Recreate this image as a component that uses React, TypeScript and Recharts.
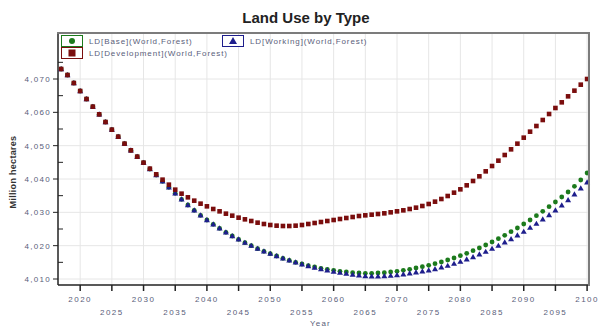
import React from 'react';
import { LineChart, Line, XAxis, YAxis, CartesianGrid } from 'recharts';

const years = [
  2017, 2018, 2019, 2020, 2021, 2022, 2023, 2024, 2025, 2026,
  2027, 2028, 2029, 2030, 2031, 2032, 2033, 2034, 2035, 2036,
  2037, 2038, 2039, 2040, 2041, 2042, 2043, 2044, 2045, 2046,
  2047, 2048, 2049, 2050, 2051, 2052, 2053, 2054, 2055, 2056,
  2057, 2058, 2059, 2060, 2061, 2062, 2063, 2064, 2065, 2066,
  2067, 2068, 2069, 2070, 2071, 2072, 2073, 2074, 2075, 2076,
  2077, 2078, 2079, 2080, 2081, 2082, 2083, 2084, 2085, 2086,
  2087, 2088, 2089, 2090, 2091, 2092, 2093, 2094, 2095, 2096,
  2097, 2098, 2099, 2100,
];

const developmentValues = [
  4073.0, 4071.2, 4068.8, 4066.4, 4064.0, 4061.7, 4059.4, 4057.1, 4054.8, 4052.7,
  4050.6, 4048.6, 4046.7, 4044.9, 4043.1, 4041.4, 4039.8, 4038.3, 4036.8, 4035.6,
  4034.5, 4033.5, 4032.6, 4031.8, 4031.0, 4030.3, 4029.6, 4029.0, 4028.4, 4027.9,
  4027.4, 4026.9, 4026.5, 4026.2, 4026.0, 4025.9, 4025.9, 4026.0, 4026.2, 4026.5,
  4026.8, 4027.1, 4027.4, 4027.7, 4028.0, 4028.3, 4028.6, 4028.9, 4029.1, 4029.3,
  4029.5, 4029.7, 4030.0, 4030.3, 4030.6, 4031.0, 4031.4, 4031.9, 4032.5, 4033.2,
  4034.0, 4034.9, 4035.9, 4036.9, 4038.1, 4039.4, 4040.8, 4042.3, 4043.9, 4045.5,
  4047.2, 4048.9, 4050.6, 4052.4, 4054.2, 4055.9, 4057.7, 4059.5, 4061.3, 4063.0,
  4064.8, 4066.5, 4068.3, 4070.0,
];

const workingValues = [
  4073.0, 4071.2, 4068.8, 4066.4, 4064.0, 4061.7, 4059.4, 4057.1, 4054.8, 4052.7,
  4050.6, 4048.6, 4046.7, 4044.9, 4043.0, 4041.2, 4039.3, 4037.5, 4035.7, 4033.9,
  4032.2, 4030.6, 4029.1, 4027.7, 4026.4, 4025.2, 4024.0, 4022.9, 4021.9, 4020.9,
  4020.0, 4019.1, 4018.3, 4017.6, 4016.9, 4016.2, 4015.6, 4015.0, 4014.4, 4013.9,
  4013.4, 4013.0, 4012.6, 4012.2, 4011.9, 4011.6, 4011.3, 4011.1, 4010.9, 4010.8,
  4010.8, 4010.9, 4011.0, 4011.2, 4011.4, 4011.7, 4012.0, 4012.3, 4012.6, 4013.0,
  4013.5, 4014.0, 4014.6, 4015.2, 4015.9, 4016.6, 4017.4, 4018.2, 4019.1, 4020.0,
  4021.0, 4022.0, 4023.1, 4024.2, 4025.4, 4026.6, 4027.9, 4029.2, 4030.6, 4032.1,
  4033.7, 4035.4, 4037.2, 4039.0,
];

const baseValues = [
  4073.0, 4071.2, 4068.8, 4066.4, 4064.0, 4061.7, 4059.4, 4057.1, 4054.8, 4052.7,
  4050.6, 4048.6, 4046.7, 4044.9, 4043.0, 4041.2, 4039.3, 4037.5, 4035.7, 4033.9,
  4032.2, 4030.6, 4029.1, 4027.7, 4026.4, 4025.2, 4024.0, 4022.9, 4021.9, 4020.9,
  4020.0, 4019.1, 4018.3, 4017.6, 4016.9, 4016.2, 4015.6, 4015.0, 4014.5, 4014.0,
  4013.6, 4013.2, 4012.9, 4012.6, 4012.3, 4012.1, 4011.9, 4011.8, 4011.7, 4011.7,
  4011.8, 4011.9, 4012.1, 4012.3, 4012.6, 4012.9, 4013.3, 4013.7, 4014.1, 4014.6,
  4015.1, 4015.7, 4016.3, 4017.0, 4017.7, 4018.5, 4019.3, 4020.2, 4021.1, 4022.1,
  4023.1, 4024.2, 4025.3, 4026.5, 4027.7, 4029.0, 4030.3, 4031.7, 4033.1, 4034.6,
  4036.1, 4037.8, 4039.7, 4041.8,
];

const xTicks = [2020, 2025, 2030, 2035, 2040, 2045, 2050, 2055, 2060, 2065, 2070, 2075, 2080, 2085, 2090, 2095, 2100];
const yTicks = [4010, 4015, 4020, 4025, 4030, 4035, 4040, 4045, 4050, 4055, 4060, 4065, 4070, 4075, 4080];
const yGrid = [4010, 4020, 4030, 4040, 4050, 4060, 4070];

const seriesNames = ['LD[Base](World,Forest)', 'LD[Working](World,Forest)', 'LD[Development](World,Forest)'];

const data = years.map((year, i) => ({
  year,
  base: baseValues[i],
  working: workingValues[i],
  development: developmentValues[i],
}));

const GREEN = '#1c7a1c';
const BLUE = '#1e1e8c';
const RED = '#7a0d0d';
const TICK_TEXT = '#59607a';
const FONT = '"Liberation Sans", Arial, sans-serif';

const circleDot = (p: any) => (
  <circle key={`b-${p.index}`} cx={p.cx} cy={p.cy} r={2.4} fill={GREEN} />
);
const triangleDot = (p: any) => (
  <polygon
    key={`w-${p.index}`}
    points={`${p.cx},${p.cy - 3} ${p.cx + 3},${p.cy + 2.2} ${p.cx - 3},${p.cy + 2.2}`}
    fill={BLUE}
  />
);
const squareDot = (p: any) => (
  <rect key={`d-${p.index}`} x={p.cx - 2.3} y={p.cy - 2.3} width={4.6} height={4.6} fill={RED} />
);

const YTick = ({ x, y, payload }: any) => {
  const v = payload.value;
  if (v > 4075) return null;
  if (v % 10 !== 0) {
    return <line x1={x} x2={x + 5} y1={y} y2={y} stroke="#222" strokeWidth={1} />;
  }
  return (
    <g>
      <line x1={x - 5} x2={x} y1={y} y2={y} stroke="#222" strokeWidth={1} />
      <text x={x - 7} y={y + 3} textAnchor="end" fontSize={8} letterSpacing={1.3} fill={TICK_TEXT} fontFamily={FONT}>
        {v.toLocaleString('en-US')}
      </text>
    </g>
  );
};

const XTick = ({ x, y, payload }: any) => {
  const v = payload.value;
  const low = (v / 5) % 2 === 1;
  return (
    <g>
      <line x1={x} x2={x} y1={y} y2={y + 6} stroke="#222" strokeWidth={1.5} />
      <text x={x} y={low ? y + 30 : y + 17} textAnchor="middle" fontSize={8} letterSpacing={1.5} fill={TICK_TEXT} fontFamily={FONT}>
        {v}
      </text>
    </g>
  );
};

const LegendItem = ({ left, top, color, shape, label }: any) => (
  <div style={{ position: 'absolute', left, top, display: 'flex', alignItems: 'center' }}>
    <div
      style={{
        width: 20,
        height: 10,
        border: `1.5px solid ${color}`,
        background: '#fff',
        display: 'flex',
        alignItems: 'center',
        justifyContent: 'center',
      }}
    >
      <svg width={8} height={8}>
        {shape === 'circle' && <circle cx={4} cy={4} r={3} fill={color} />}
        {shape === 'triangle' && <polygon points="4,0 8,7 0,7" fill={color} />}
        {shape === 'square' && <rect x={0.5} y={0.5} width={7} height={7} fill={color} />}
      </svg>
    </div>
    <span style={{ marginLeft: 6, fontSize: 8, letterSpacing: 0.9, color: TICK_TEXT, fontFamily: FONT, whiteSpace: 'nowrap' }}>
      {label}
    </span>
  </div>
);

export default function App() {
  return (
    <div style={{ position: 'absolute', left: 0, top: 0, width: 598, height: 329, background: '#fff', overflow: 'hidden' }}>
      <LineChart width={598} height={329} data={data} margin={{ top: 33, right: 9, bottom: 14, left: 8 }}>
        <CartesianGrid stroke="#e6e6e6" strokeWidth={1} horizontalValues={yGrid} verticalValues={xTicks} />
        <XAxis
          dataKey="year"
          type="number"
          domain={[2016.5, 2100.3]}
          ticks={xTicks}
          interval={0}
          height={30}
          tickSize={0}
          tickMargin={0}
          tickLine={false}
          axisLine={{ stroke: '#222', strokeWidth: 1.5 }}
          tick={<XTick />}
        />
        <YAxis
          type="number"
          domain={[4008.2, 4083.8]}
          ticks={yTicks}
          interval={0}
          width={50}
          tickSize={0}
          tickMargin={0}
          tickLine={false}
          axisLine={{ stroke: '#222', strokeWidth: 1.5 }}
          tick={<YTick />}
        />
        <Line dataKey="base" stroke="none" dot={circleDot} isAnimationActive={false} />
        <Line dataKey="working" stroke="none" dot={triangleDot} isAnimationActive={false} />
        <Line dataKey="development" stroke="none" dot={squareDot} isAnimationActive={false} />
      </LineChart>

      <div style={{ position: 'absolute', left: 57, top: 32, width: 531, height: 252, borderTop: '2px solid #7c7c7c', borderRight: '2px solid #7c7c7c', pointerEvents: 'none' }} />

      <div style={{ position: 'absolute', left: 0, width: 612, top: 9, textAlign: 'center', fontFamily: FONT, fontWeight: 'bold', fontSize: 15, color: '#222' }}>
        Land Use by Type
      </div>

      <LegendItem left={61} top={35} color={GREEN} shape="circle" label={seriesNames[0]} />
      <LegendItem left={222} top={35} color={BLUE} shape="triangle" label={seriesNames[1]} />
      <LegendItem left={61} top={47} color={RED} shape="square" label={seriesNames[2]} />

      <div
        style={{
          position: 'absolute',
          left: 13,
          top: 172,
          transform: 'translate(-50%, -50%) rotate(-90deg)',
          fontFamily: FONT,
          fontSize: 9,
          fontWeight: 'bold',
          color: '#333',
          whiteSpace: 'nowrap',
          letterSpacing: 0.3,
        }}
      >
        Million hectares
      </div>
      <div style={{ position: 'absolute', left: 310, top: 319, fontFamily: FONT, fontSize: 8, letterSpacing: 1.2, color: TICK_TEXT }}>
        Year
      </div>
    </div>
  );
}
